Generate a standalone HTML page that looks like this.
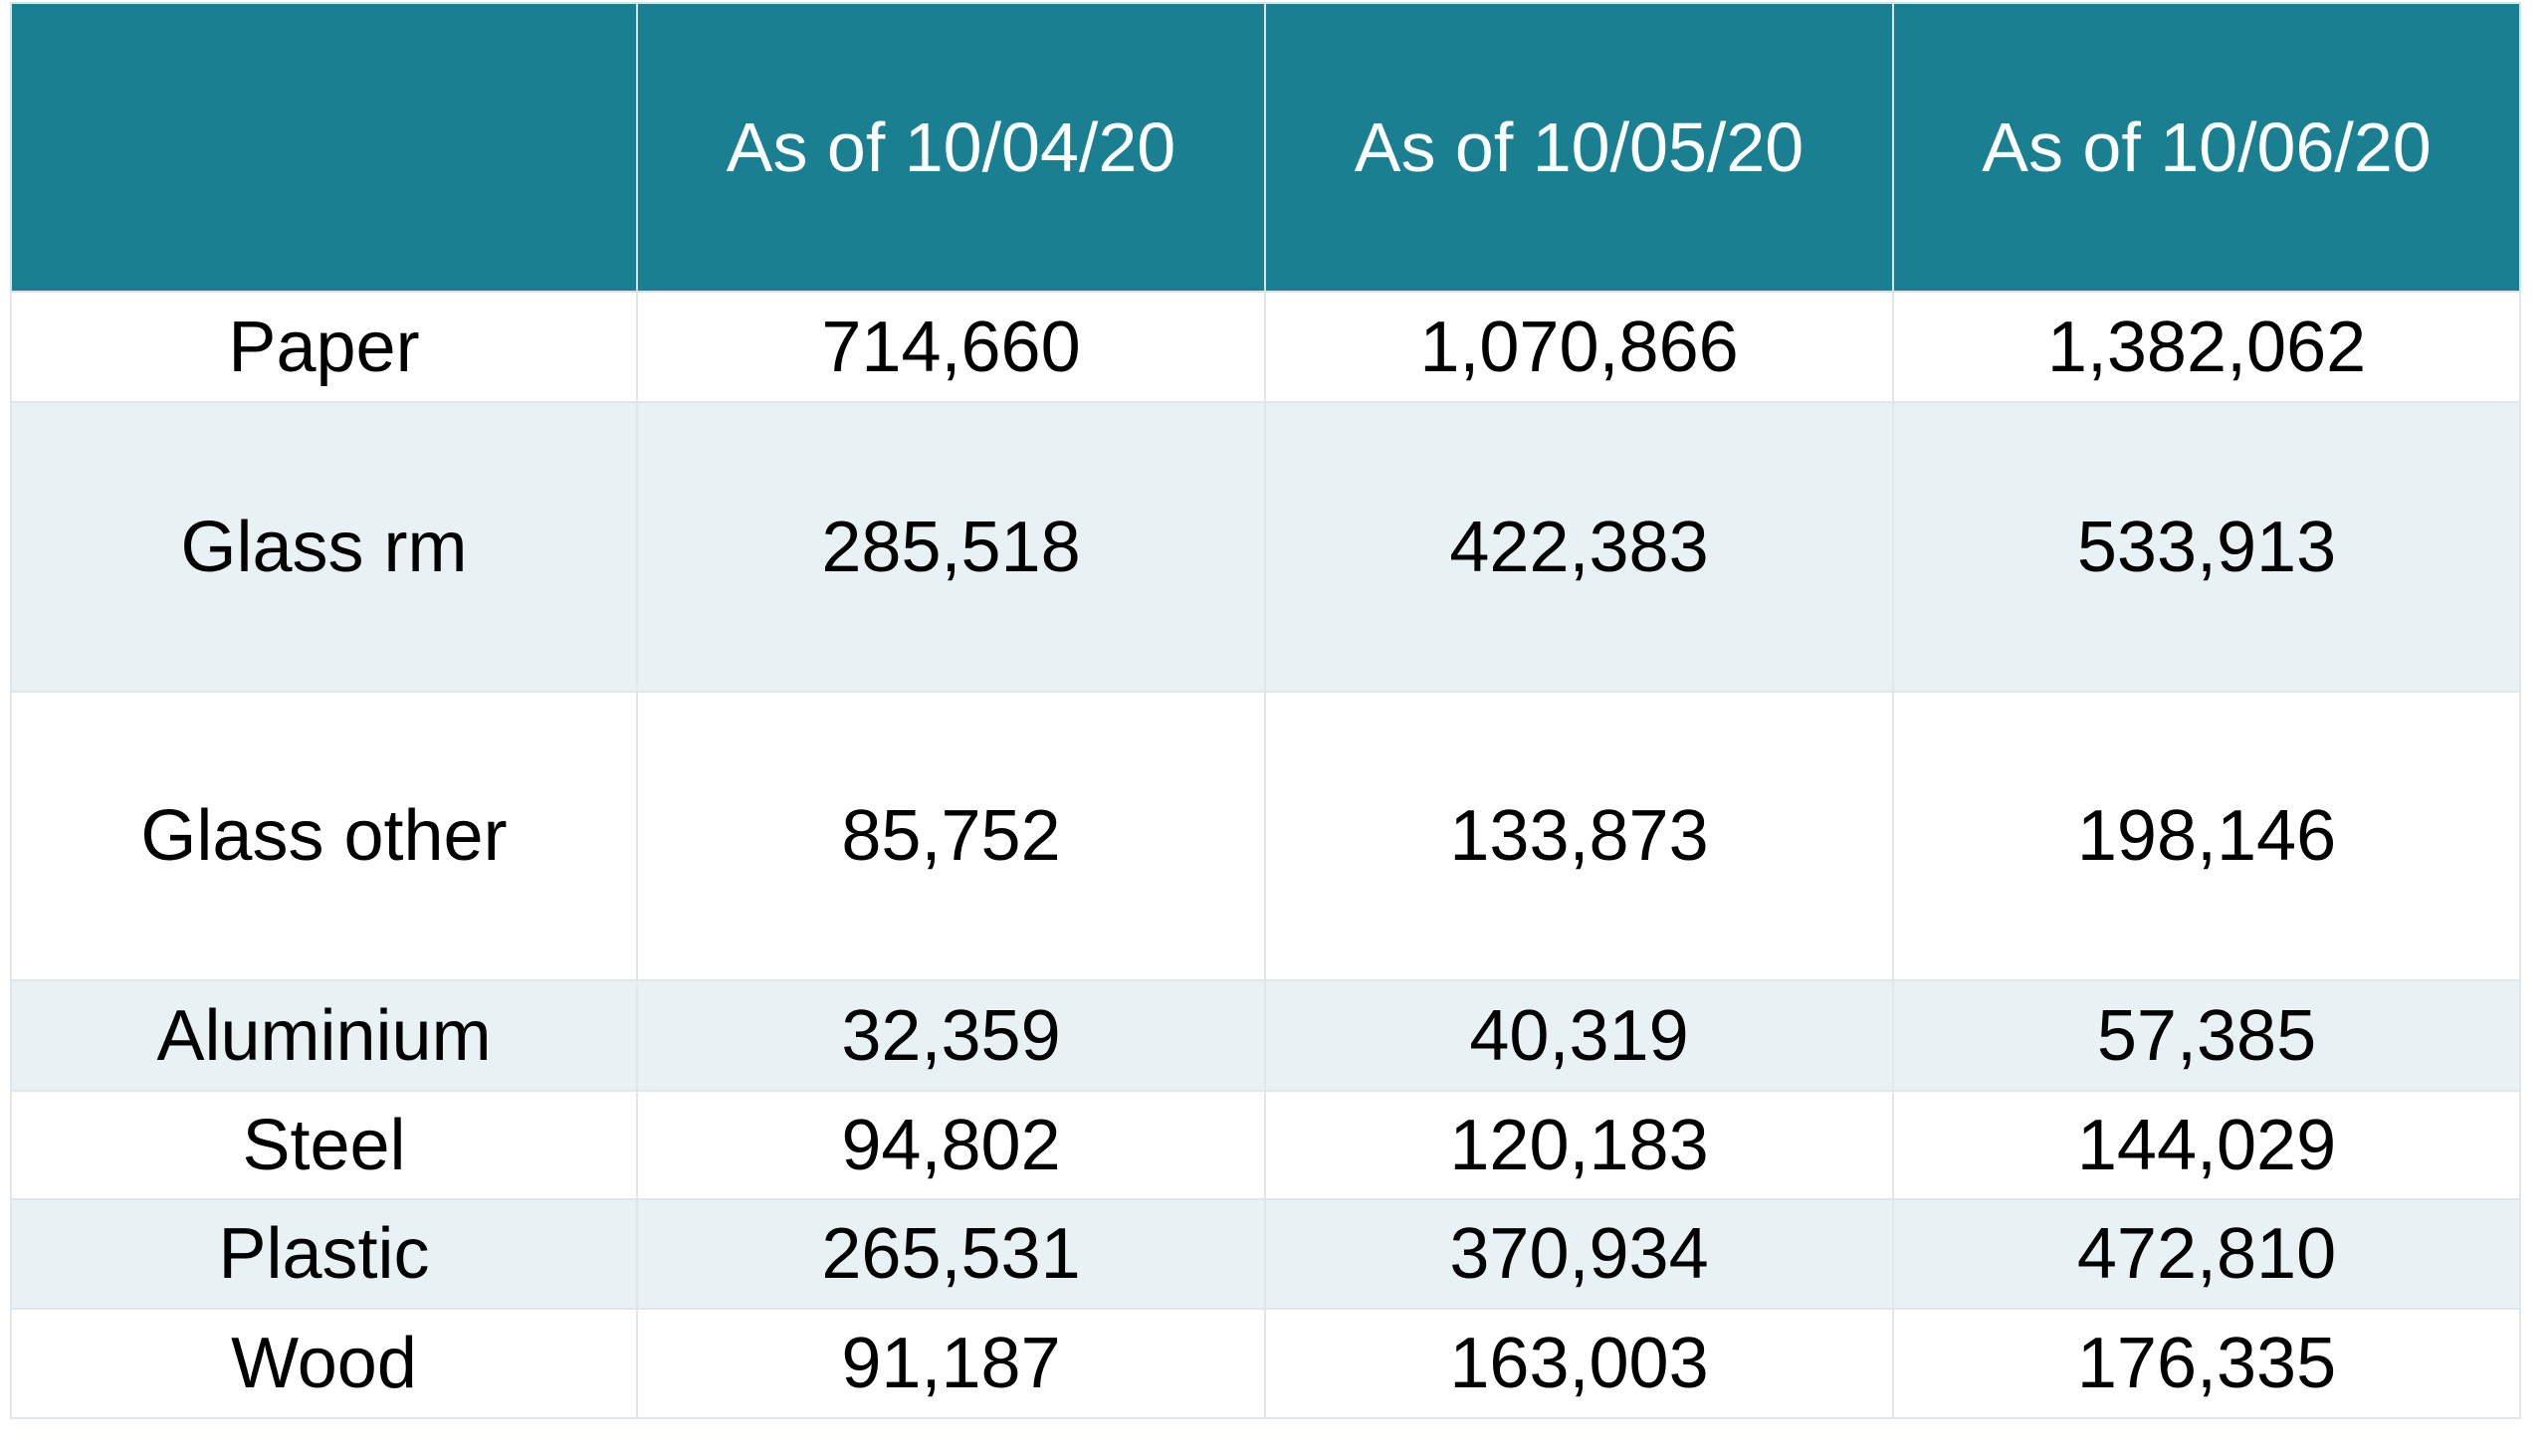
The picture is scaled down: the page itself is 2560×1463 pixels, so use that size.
<!DOCTYPE html>
<html><head><meta charset="utf-8"><style>
html,body{margin:0;padding:0;background:#fff;width:2560px;height:1463px;overflow:hidden}
#t{position:absolute;left:10px;top:2px;border-collapse:collapse;table-layout:fixed;font-family:"Liberation Sans",sans-serif}
#t td,#t th{border:2px solid #dfe7ea;text-align:center;padding:0;font-weight:normal;color:#000;font-size:72px}
#t th{background:#1a7f91;color:#fff;font-size:70px;border-color:#d6e4e8;height:288px}
#t tr.alt td{background:#e8f1f3}
</style></head><body>
<table id="t">
<colgroup><col style="width:629px"><col style="width:631px"><col style="width:631px"><col style="width:630px"></colgroup>
<thead><tr>
<th></th>
<th>As of 10/04/20</th>
<th>As of 10/05/20</th>
<th>As of 10/06/20</th>
</tr></thead>
<tbody>
<tr style="height:111px"><td>Paper</td><td>714,660</td><td>1,070,866</td><td>1,382,062</td></tr>
<tr class="alt" style="height:291px"><td>Glass rm</td><td>285,518</td><td>422,383</td><td>533,913</td></tr>
<tr style="height:290px"><td>Glass other</td><td>85,752</td><td>133,873</td><td>198,146</td></tr>
<tr class="alt" style="height:111px"><td>Aluminium</td><td>32,359</td><td>40,319</td><td>57,385</td></tr>
<tr style="height:109px"><td>Steel</td><td>94,802</td><td>120,183</td><td>144,029</td></tr>
<tr class="alt" style="height:110px"><td>Plastic</td><td>265,531</td><td>370,934</td><td>472,810</td></tr>
<tr style="height:110px"><td>Wood</td><td>91,187</td><td>163,003</td><td>176,335</td></tr>
</tbody></table>
</body></html>
